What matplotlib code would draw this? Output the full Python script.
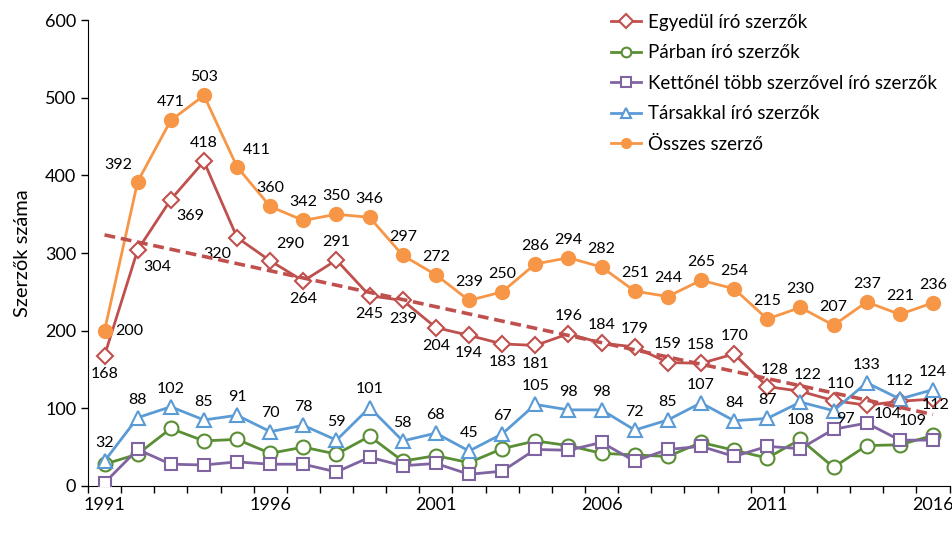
import numpy as np
import matplotlib
matplotlib.use("Agg")
import matplotlib.pyplot as plt
from matplotlib.ticker import MultipleLocator

plt.rcParams['font.family'] = ['Lato', 'DejaVu Sans']

years = list(range(1991, 2017))
egyedul = [168, 304, 369, 418, 320, 290, 264, 291, 245, 239, 204, 194, 183,
           181, 196, 184, 179, 159, 158, 170, 128, 122, 110, 104, 109, 112]
parban = [28, 41, 74, 58, 60, 42, 50, 41, 64, 32, 39, 30, 48,
          58, 52, 42, 40, 38, 56, 46, 36, 60, 24, 52, 53, 65]
kettonel = [4, 47, 28, 27, 31, 28, 28, 18, 37, 26, 29, 15, 19,
            47, 46, 56, 32, 47, 51, 38, 51, 48, 73, 81, 59, 59]
tarsakkal = [32, 88, 102, 85, 91, 70, 78, 59, 101, 58, 68, 45, 67,
             105, 98, 98, 72, 85, 107, 84, 87, 108, 97, 133, 112, 124]
osszes = [200, 392, 471, 503, 411, 360, 342, 350, 346, 297, 272, 239, 250,
          286, 294, 282, 251, 244, 265, 254, 215, 230, 207, 237, 221, 236]

# label placement (a=above, b=below, r=right, l=left)
pos_egy = ['b', 'br', 'br', 'a', 'bl', 'ar', 'b', 'a', 'b', 'b', 'b', 'b', 'b',
           'b', 'a', 'a', 'a', 'a', 'a', 'a', 'ac', 'ac', 'ac', 'br1', 'br2', 'br3']
pos_ossz = ['r', 'al', 'a', 'a', 'ar', 'a', 'a', 'a', 'a', 'a', 'a', 'a', 'a',
            'a', 'a', 'a', 'a', 'a', 'a', 'a', 'a', 'a', 'a', 'a', 'a', 'a']
pos_tars = ['a'] * 21 + ['b', 'br4', 'a', 'a', 'a']

RED = '#C0504D'
GREEN = '#5A8E35'
PURPLE = '#8064A2'
BLUE = '#5B9BD5'
ORANGE = '#F79646'

offs = {'a': (0, 8, 'center', 'bottom'), 'b': (0, -8, 'center', 'top'),
        'r': (8, 0, 'left', 'center'), 'ar': (4, 7, 'left', 'bottom'),
        'ac': (5, 7, 'center', 'bottom'),
        'al': (-4, 7, 'right', 'bottom'), 'br': (4, -7, 'left', 'top'),
        'bl': (-4, -7, 'right', 'top'),
        'br1': (5, -1, 'left', 'top'), 'br2': (-1, -9, 'left', 'top'),
        'br3': (12, 1, 'right', 'top'), 'br4': (2, -1, 'left', 'top')}


def add_labels(ax, xs, ys, positions):
    for x, y, p in zip(xs, ys, positions):
        dx, dy, ha, va = offs[p]
        ax.annotate(str(y), (x, y), xytext=(dx, dy), textcoords='offset points',
                    ha=ha, va=va, fontsize=11.5, color='black')


fig = plt.figure(figsize=(9.52, 5.46), dpi=100)
ax = fig.add_axes([0.0924, 0.11, 0.905, 0.853])

lw = 2.0
ms = 9
ax.plot(years, egyedul, color=RED, lw=lw, marker='D', ms=8, mfc='white',
        mec=RED, mew=1.5, label='Egyedül író szerzők', zorder=3)
ax.plot(years, parban, color=GREEN, lw=lw, marker='o', ms=ms + 1, mfc='white',
        mec=GREEN, mew=1.5, label='Párban író szerzők', zorder=3)
ax.plot(years, kettonel, color=PURPLE, lw=lw, marker='s', ms=ms - 0.5, mfc='white',
        mec=PURPLE, mew=1.5, label='Kettőnél több szerzővel író szerzők', zorder=3)
ax.plot(years, tarsakkal, color=BLUE, lw=lw, marker='^', ms=ms + 1, mfc='white',
        mec=BLUE, mew=1.5, label='Társakkal író szerzők', zorder=3)
ax.plot(years, osszes, color=ORANGE, lw=lw, marker='o', ms=ms + 1, mfc=ORANGE,
        mec=ORANGE, label='Összes szerző', zorder=3)

# linear trend of the single-author series
coef = np.polyfit(years, egyedul, 1)
ax.plot(years, np.polyval(coef, years), color=RED, lw=2.6, ls=(0, (3, 1.6)), zorder=4)

add_labels(ax, years, egyedul, pos_egy)
add_labels(ax, years, tarsakkal, pos_tars)
add_labels(ax, years, osszes, pos_ossz)

ax.set_xlim(1990.5, 2016.5)
ax.set_ylim(0, 600)
ax.yaxis.set_major_locator(MultipleLocator(100))
ax.set_xticks(years[::5])
ax.set_xticks(np.arange(1990.5, 2017, 1), minor=True)
ax.tick_params(axis='x', which='major', length=0, labelsize=13, pad=8)
ax.tick_params(axis='x', which='minor', length=5, direction='out', width=1)
ax.tick_params(axis='y', length=5, direction='out', width=1, labelsize=13)
for s in ['top', 'right']:
    ax.spines[s].set_visible(False)
ax.spines['left'].set_color('black')
ax.spines['bottom'].set_color('black')
ax.set_ylabel('Szerzők száma', fontsize=14.5, labelpad=10)

leg = ax.legend(loc='upper left', bbox_to_anchor=(0.598, 1.03), frameon=False,
                fontsize=13.5, handlelength=1.6, labelspacing=0.72,
                handletextpad=0.4, borderaxespad=0)
for h in leg.legend_handles:
    h.set_markersize(7)

fig.savefig('out.png', dpi=100)
